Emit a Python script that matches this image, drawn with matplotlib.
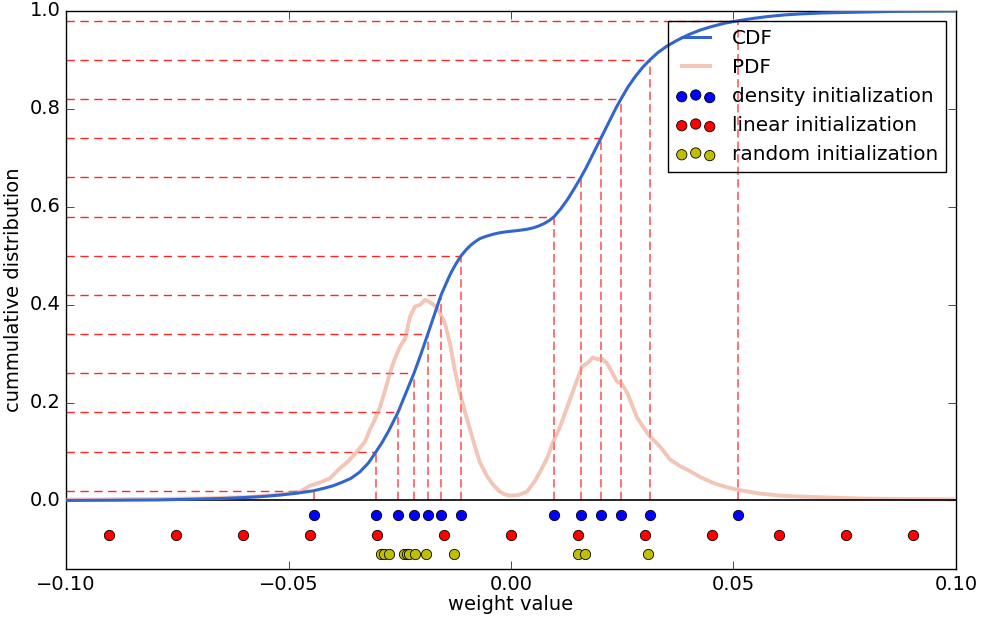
import matplotlib
matplotlib.use("Agg")
import matplotlib.pyplot as plt

plt.style.use("classic")
plt.rcParams["font.family"] = ["DejaVu Sans"]
plt.rcParams["font.size"] = 14

# ---- data ----
cdf_x = [-0.100, -0.095, -0.090, -0.085, -0.080, -0.075, -0.070, -0.065, -0.060, -0.056,
         -0.052, -0.048, -0.0443, -0.042, -0.040, -0.038, -0.036, -0.034, -0.032, -0.0303,
         -0.029, -0.0275, -0.0254, -0.0236, -0.0218, -0.0202, -0.0187, -0.0172, -0.0157, -0.0145,
         -0.0135, -0.0124, -0.0112, -0.010, -0.009, -0.008, -0.007, -0.0055, -0.004, -0.0025,
         -0.001, 0.0005, 0.002, 0.0035, 0.005, 0.0063, 0.0075, 0.0086, 0.0097, 0.0112,
         0.0127, 0.0142, 0.0157, 0.0169, 0.018, 0.0191, 0.0202, 0.0214, 0.0225, 0.0236,
         0.0247, 0.0263, 0.028, 0.0296, 0.0312, 0.033, 0.035, 0.0375, 0.040, 0.0425,
         0.045, 0.048, 0.051, 0.0545, 0.058, 0.0615, 0.065, 0.070, 0.075, 0.080,
         0.085, 0.090, 0.100]
cdf_y = [0.000, 0.0003, 0.0005, 0.0008, 0.001, 0.002, 0.003, 0.004, 0.006, 0.008,
         0.011, 0.015, 0.020, 0.025, 0.030, 0.037, 0.045, 0.058, 0.077, 0.100,
         0.118, 0.142, 0.180, 0.220, 0.260, 0.300, 0.340, 0.380, 0.420, 0.445,
         0.465, 0.483, 0.500, 0.513, 0.522, 0.529, 0.535, 0.540, 0.544, 0.547,
         0.549, 0.5505, 0.552, 0.554, 0.557, 0.561, 0.566, 0.572, 0.580, 0.596,
         0.615, 0.637, 0.660, 0.680, 0.700, 0.720, 0.740, 0.762, 0.782, 0.802,
         0.820, 0.845, 0.867, 0.885, 0.900, 0.915, 0.928, 0.941, 0.952, 0.961,
         0.968, 0.975, 0.980, 0.985, 0.989, 0.992, 0.994, 0.996, 0.997, 0.998,
         0.999, 0.9995, 1.000]

pdf_x = [-0.1000, -0.0924, -0.0811, -0.0699, -0.0587, -0.0519, -0.0474, -0.0452, -0.0429, -0.0407,
         -0.0384, -0.0366, -0.0346, -0.0328, -0.0317, -0.0306, -0.0294, -0.0283, -0.0272, -0.0261,
         -0.0249, -0.0238, -0.0227, -0.0216, -0.0204, -0.0193, -0.0182, -0.0171, -0.0160, -0.0148,
         -0.0137, -0.0126, -0.0115, -0.0103, -0.0092, -0.0081, -0.0070, -0.0054, -0.0040, -0.0025,
         -0.0013, -0.0002, 0.0016, 0.0036, 0.0054, 0.0072, 0.0083, 0.0094, 0.0110, 0.0126,
         0.0144, 0.0160, 0.0171, 0.0184, 0.0196, 0.0204, 0.0216, 0.0227, 0.0238, 0.0249,
         0.0261, 0.0272, 0.0283, 0.0297, 0.0312, 0.0335, 0.0357, 0.0380, 0.0402, 0.0425,
         0.0454, 0.0481, 0.0508, 0.0560, 0.0604, 0.0649, 0.0717, 0.0784, 0.0874, 0.1000]
pdf_y = [0.002, 0.002, 0.003, 0.004, 0.007, 0.012, 0.018, 0.030, 0.037, 0.045,
         0.066, 0.080, 0.100, 0.120, 0.145, 0.165, 0.192, 0.225, 0.260, 0.290,
         0.315, 0.330, 0.375, 0.396, 0.400, 0.410, 0.405, 0.398, 0.385, 0.360,
         0.320, 0.265, 0.220, 0.180, 0.145, 0.110, 0.078, 0.050, 0.032, 0.018,
         0.012, 0.010, 0.011, 0.018, 0.040, 0.070, 0.090, 0.118, 0.150, 0.190,
         0.235, 0.274, 0.280, 0.292, 0.288, 0.290, 0.280, 0.262, 0.243, 0.238,
         0.220, 0.195, 0.170, 0.150, 0.131, 0.110, 0.084, 0.070, 0.060, 0.048,
         0.036, 0.028, 0.022, 0.014, 0.010, 0.008, 0.006, 0.004, 0.003, 0.002]

density_centroids = [-0.0443, -0.0303, -0.0254, -0.0218, -0.0187, -0.0157, -0.0112,
                     0.0097, 0.0157, 0.0202, 0.0247, 0.0312, 0.0510]
density_levels = [0.02, 0.10, 0.18, 0.26, 0.34, 0.42, 0.50,
                  0.58, 0.66, 0.74, 0.82, 0.90, 0.98]
linear_centroids = [-0.0903, -0.0753, -0.0602, -0.0452, -0.0301, -0.0151, 0.0,
                    0.0151, 0.0301, 0.0452, 0.0602, 0.0753, 0.0903]
random_centroids = [-0.0292, -0.0285, -0.0274, -0.0240, -0.0233, -0.0229, -0.0216,
                    -0.0191, -0.0128, 0.0151, 0.0166, 0.0308]

row_density, row_linear, row_random = -0.03, -0.07, -0.11

# ---- figure ----
fig = plt.figure(figsize=(9.82, 6.17), dpi=100, facecolor="white")
ax = fig.add_axes([66 / 982, 1 - 569 / 617, 890 / 982, 558 / 617])
ax.set_facecolor("white")

ax.plot(cdf_x, cdf_y, color="#3366cc", lw=2.2, label="CDF", zorder=4,
        solid_joinstyle="round")
ax.plot(pdf_x, pdf_y, color="#e9967a", lw=2.8, alpha=0.55, label="PDF", zorder=3)

for cx, lv in zip(density_centroids, density_levels):
    ax.plot([-0.1, cx], [lv, lv], color="red", lw=1.0, dashes=(6, 4), alpha=0.85, zorder=2)
    ax.plot([cx, cx], [0, lv], color="red", lw=1.4, dashes=(6, 3), alpha=0.55, zorder=2)

ax.axhline(0, color="black", lw=1.2, zorder=3)

ax.scatter(density_centroids, [row_density] * len(density_centroids), s=55, c="blue",
           edgecolors="black", linewidths=0.6, label="density initialization", zorder=5)
ax.scatter(linear_centroids, [row_linear] * len(linear_centroids), s=55, c="red",
           edgecolors="black", linewidths=0.6, label="linear initialization", zorder=5)
ax.scatter(random_centroids, [row_random] * len(random_centroids), s=55, c=(0.75, 0.75, 0),
           edgecolors="black", linewidths=0.6, label="random initialization", zorder=5)

ax.set_xlim(-0.1, 0.1)
ax.set_ylim(-0.14, 1.0)
ax.set_xticks([-0.10, -0.05, 0.00, 0.05, 0.10])
ax.set_xticklabels(["\u22120.10", "\u22120.05", "0.00", "0.05", "0.10"])
ax.set_yticks([0.0, 0.2, 0.4, 0.6, 0.8, 1.0])
ax.set_yticklabels(["0.0", "0.2", "0.4", "0.6", "0.8", "1.0"])
ax.tick_params(labelsize=14, direction="in", length=6, top=True, right=True)
ax.set_xlabel("weight value", fontsize=14, labelpad=1)
ax.set_ylabel("cummulative distribution", fontsize=14)

leg = ax.legend(loc="upper right", fontsize=14.4, scatterpoints=3, numpoints=2,
                fancybox=False, borderaxespad=0.5)
leg.get_frame().set_facecolor("none")
leg.get_frame().set_edgecolor("black")

fig.savefig("out.png", dpi=100, facecolor="white")
